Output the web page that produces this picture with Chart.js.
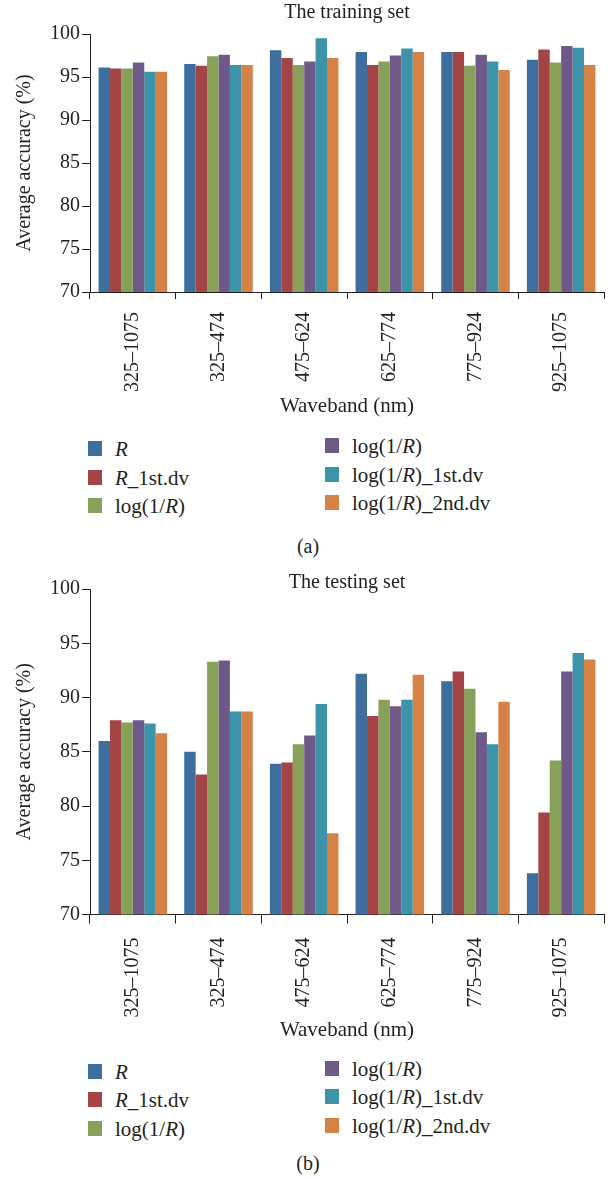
<!DOCTYPE html>
<html lang="en">
<head>
    <meta charset="UTF-8">
    <title>Average accuracy by waveband</title>
    <script src="https://cdn.jsdelivr.net/npm/chart.js"></script>
    <style>
        body {
            margin: 0;
            background: #fff;
            font-family: 'Liberation Serif', 'DejaVu Serif', serif;
            color: #231f20;
        }
        #page {
            position: relative;
            width: 616px;
            height: 1179px;
            overflow: hidden;
        }
        canvas { position: absolute; left: 0; }
        .legend { position: absolute; left: 0; width: 616px; }
        .item {
            position: absolute;
            height: 24px;
            line-height: 24px;
            font-size: 21px;
            white-space: nowrap;
        }
        .item span.box {
            position: absolute;
            left: 0;
            top: 4px;
            width: 14px;
            height: 15px;
        }
        .item span.txt { position: absolute; left: 27px; top: 0; }
        .caption {
            position: absolute;
            left: 0;
            width: 616px;
            text-align: center;
            font-size: 20px;
            line-height: 24px;
        }
    </style>
</head>
<body>
<div id="page">
    <canvas id="trainChart" width="616" height="420" style="top:0px"></canvas>
    <div class="legend" id="trainLegend" style="top:0px"></div>
    <div class="caption" style="top:534px">(a)</div>

    <canvas id="testChart" width="616" height="472" style="top:571px"></canvas>
    <div class="legend" id="testLegend" style="top:0px"></div>
    <div class="caption" style="top:1151px">(b)</div>
</div>
<script>
// waveband categories
const wavebands = ['325–1075', '325–474', '475–624', '625–774', '775–924', '925–1075'];
const seriesNames = ['R', 'R_1st.dv', 'log(1/R)', 'log(1/R)', 'log(1/R)_1st.dv', 'log(1/R)_2nd.dv'];
const seriesColors = ['#3e6e9d', '#a34545', '#87a15b', '#6e5988', '#3d93a8', '#d68247'];

// training set accuracies (%)
const trainR     = [96.1, 96.5, 98.1, 97.9, 97.9, 97.0];
const trainR1    = [96.0, 96.3, 97.2, 96.4, 97.9, 98.2];
const trainLog   = [96.0, 97.4, 96.4, 96.8, 96.3, 96.7];
const trainLogB  = [96.7, 97.6, 96.8, 97.5, 97.6, 98.6];
const trainLog1  = [95.6, 96.4, 99.5, 98.3, 96.8, 98.4];
const trainLog2  = [95.6, 96.4, 97.2, 97.9, 95.8, 96.4];

// testing set accuracies (%)
const testR      = [86.0, 85.0, 83.9, 92.2, 91.5, 73.8];
const testR1     = [87.9, 82.9, 84.0, 88.3, 92.4, 79.4];
const testLog    = [87.7, 93.3, 85.7, 89.8, 90.8, 84.2];
const testLogB   = [87.9, 93.4, 86.5, 89.2, 86.8, 92.4];
const testLog1   = [87.6, 88.7, 89.4, 89.8, 85.7, 94.1];
const testLog2   = [86.7, 88.7, 77.5, 92.1, 89.6, 93.5];

const yTicks = {min: 70, max: 100, step: 5};

const FONT = "'Liberation Serif', 'DejaVu Serif', serif";
const INK = '#231f20';
Chart.defaults.font.family = FONT;
Chart.defaults.color = INK;

function buildChart(id, title, series, g) {
    const ctx = document.getElementById(id).getContext('2d');
    return new Chart(ctx, {
        type: 'bar',
        data: {
            labels: wavebands,
            datasets: series.map((vals, i) => ({
                label: seriesNames[i],
                data: vals,
                backgroundColor: seriesColors[i],
                borderWidth: 0,
                categoryPercentage: 0.8,
                barPercentage: 1.0
            }))
        },
        options: {
            responsive: false,
            devicePixelRatio: 1,
            animation: false,
            layout: { padding: { left: 0, right: 12, top: g.padTop, bottom: 0 } },
            plugins: {
                legend: { display: false },
                tooltip: { enabled: false },
                title: {
                    display: true,
                    text: title,
                    fullSize: false,
                    color: INK,
                    font: { size: 20, weight: 'normal', lineHeight: g.titleLH },
                    padding: { top: g.titleTop, bottom: g.titleBottom }
                }
            },
            scales: {
                x: {
                    grid: { drawOnChartArea: false, tickLength: g.xTick, color: INK, offset: true },
                    border: { color: INK, width: 1 },
                    ticks: { minRotation: 90, maxRotation: 90, padding: g.xPad, color: INK, font: { size: 20 } },
                    title: {
                        display: true, text: 'Waveband (nm)', color: INK,
                        font: { size: 21, lineHeight: 1.2 },
                        padding: { top: 0, bottom: g.xTitleBottom }
                    },
                    afterFit: s => { s.height = g.xHeight; }
                },
                y: {
                    min: yTicks.min,
                    max: yTicks.max,
                    grid: { drawOnChartArea: false, tickLength: 8, color: INK },
                    border: { color: INK, width: 1 },
                    ticks: { stepSize: yTicks.step, padding: 2, color: INK, font: { size: 20 } },
                    title: {
                        display: true, text: 'Average accuracy (%)', color: INK,
                        font: { size: 20, lineHeight: 1.2 },
                        padding: { top: 13, bottom: 0 }
                    },
                    afterFit: s => { s.width = 90; }
                }
            }
        }
    });
}

// html legend in two columns, built from the dataset labels and colours
function buildLegend(chart, el, canvasTop) {
    const area = chart.chartArea;
    const axisY = canvasTop + area.bottom;
    const cols = [{x: 88, dy: 157}, {x: 325, dy: 154}];
    el.innerHTML = '';
    chart.data.datasets.forEach((ds, i) => {
        const col = cols[Math.floor(i / 3)];
        const row = i % 3;
        const item = document.createElement('div');
        item.className = 'item';
        item.style.left = col.x + 'px';
        item.style.top = (axisY + col.dy + row * 28.5 - 12) + 'px';
        const box = document.createElement('span');
        box.className = 'box';
        box.style.background = ds.backgroundColor;
        const txt = document.createElement('span');
        txt.className = 'txt';
        txt.innerHTML = ds.label.replace(/R/g, '<i>R</i>');
        item.appendChild(box);
        item.appendChild(txt);
        el.appendChild(item);
    });
}

const trainChart = buildChart('trainChart', 'The training set',
    [trainR, trainR1, trainLog, trainLogB, trainLog1, trainLog2],
    {padTop: 0, titleLH: 1.2, titleTop: 1, titleBottom: 9, xTick: 7, xPad: 13, xHeight: 128, xTitleBottom: 1});

const testChart = buildChart('testChart', 'The testing set',
    [testR, testR1, testLog, testLogB, testLog1, testLog2],
    {padTop: 6, titleLH: 0.6, titleTop: 0, titleBottom: 0, xTick: 9, xPad: 14, xHeight: 128.5, xTitleBottom: 0});

buildLegend(trainChart, document.getElementById('trainLegend'), 0);
buildLegend(testChart, document.getElementById('testLegend'), 571);
</script>
</body>
</html>
